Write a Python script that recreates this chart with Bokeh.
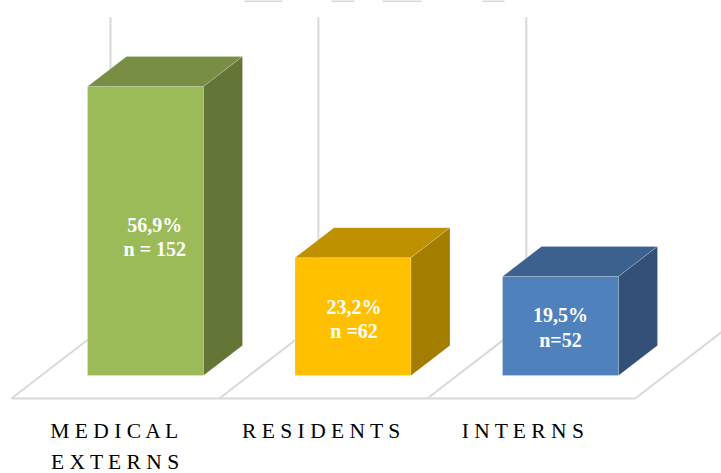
from bokeh.plotting import figure
from bokeh.models import Range1d
from bokeh.core.properties import value
from bokeh.embed import file_html
from bokeh.resources import INLINE

categories = ["M E D I C A L\nE X T E R N S", "R E S I D E N T S", "I N T E R N S"]
percent = [56.9, 23.2, 19.5]
data_labels = ["56,9%\nn = 152", "23,2%\nn =62", "19,5%\nn=52"]
front_colors = ["#9BBB59", "#FFC000", "#4F81BD"]
top_colors = ["#778E44", "#BF9000", "#3D618F"]
side_colors = ["#647637", "#A37D00", "#325078"]
label_x = [0.045, 1.005, 2.0]
label_y = [27.2, 11.2, 9.45]
cat_x = [-0.145, 0.848, 1.82]
top_stub_start = [0.477, 0.896, 1.142, 1.624]
top_stub_end = [0.660, 1.007, 1.330, 1.730]

half = 116 / 207.5 / 2
ddx, ddy = 39 / 207.5, 30 / 5.08
floor_y = -4.53
floor_x = [-0.646, 0.356, 1.358, 2.36]
back_dx, back_dy = 99 / 207.5, 15.0
wall_top = 70.5

p = figure(width=721, height=473, output_backend="svg", toolbar_location=None,
           x_range=Range1d(-0.6988, 2.7758), y_range=Range1d(-19.29, 73.82),
           min_border=0, background_fill_color="white", border_fill_color="white",
           outline_line_color=None)
p.axis.visible = False
p.grid.visible = False

grid = "#D9D9D9"
for fx in floor_x:
    p.line([fx, fx + back_dx], [floor_y, floor_y + back_dy], line_color=grid, line_width=2)
for fx in floor_x[:3]:
    p.line([fx + back_dx] * 2, [floor_y + back_dy, wall_top], line_color=grid, line_width=2)
p.line([floor_x[0], floor_x[3]], [floor_y, floor_y], line_color=grid, line_width=2)
for a, b in zip(top_stub_start, top_stub_end):
    p.line([a, b], [73.82, 73.82], line_color=grid, line_width=3)

edge = dict(line_color="white", line_alpha=0.2, line_width=1)
for i, v in enumerate(percent):
    l, r = i - half, i + half
    p.patch([l, r, r, l], [0, 0, v, v], fill_color=front_colors[i], **edge)
    p.patch([l, r, r + ddx, l + ddx], [v, v, v + ddy, v + ddy], fill_color=top_colors[i], **edge)
    p.patch([r, r + ddx, r + ddx, r], [0, ddy, v + ddy, v], fill_color=side_colors[i], **edge)

p.text(x=label_x, y=label_y, text=data_labels, text_color="white",
       text_font=value("Liberation Serif"), text_font_style="bold", text_font_size="20px",
       text_align="center", text_baseline="middle", text_line_height=1.1)

p.text(x=cat_x, y=[-8.6] * 3, text=categories, text_color="#000000",
       text_font=value("Liberation Serif"), text_font_size="21.5px",
       text_align="center", text_baseline="top", text_line_height=1.3)

open("out.html", "w").write(file_html(p, INLINE))
